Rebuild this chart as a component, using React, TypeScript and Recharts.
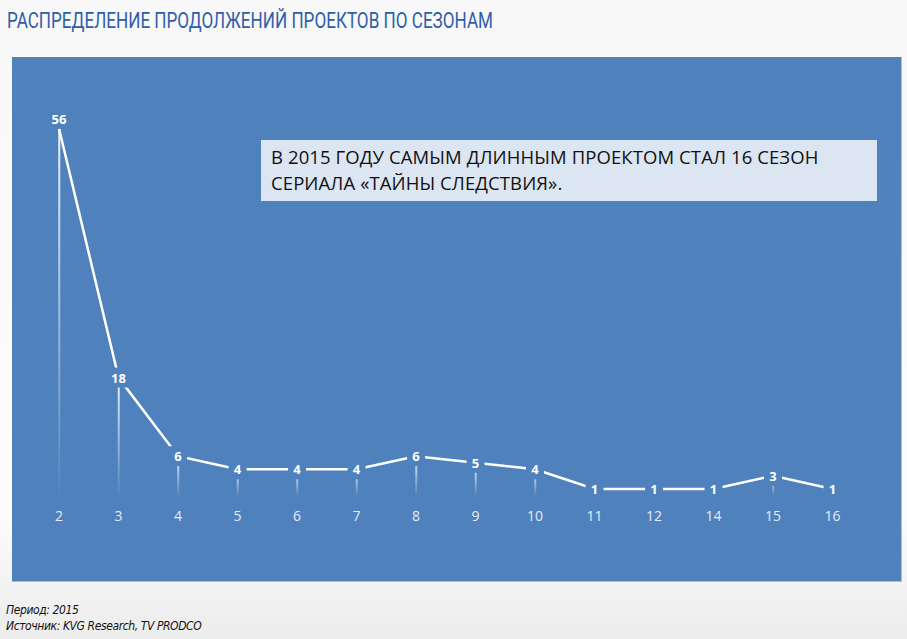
import {
  ComposedChart,
  Bar,
  Line,
  XAxis,
  YAxis,
  LabelList
} from 'recharts';

const SEASONS = ['2', '3', '4', '5', '6', '7', '8', '9', '10', '11', '12', '14', '15', '16'];
const PROJECTS = [56, 18, 6, 4, 4, 4, 6, 5, 4, 1, 1, 1, 3, 1];

const TITLE = 'РАСПРЕДЕЛЕНИЕ ПРОДОЛЖЕНИЙ ПРОЕКТОВ ПО СЕЗОНАМ';
const NOTE_LINES = ['В 2015 ГОДУ САМЫМ ДЛИННЫМ ПРОЕКТОМ СТАЛ 16 СЕЗОН', 'СЕРИАЛА «ТАЙНЫ СЛЕДСТВИЯ».'];
const PERIOD = 'Период: 2015';
const SOURCE = 'Источник: KVG Research, TV  PRODCO';

const PANEL = '#4f81bd';
const MAX_VALUE = Math.max(...PROJECTS);

const data = SEASONS.map((season, i) => ({ season, count: PROJECTS[i] }));

// thin fading drop line from the point down to the axis
function DropLine(props: any) {
  const { x, y, width, height } = props;
  if (!height || height <= 0) return null;
  return <rect x={x + width / 2 - 1} y={y} width={2} height={height} fill="url(#dropFade)" />;
}

// value label sitting on the point, with a panel-coloured box that cuts the line
function PointLabel(props: any) {
  const { x, y, value } = props;
  const w = String(value).length > 1 ? 26 : 18;
  const cy = value === MAX_VALUE ? y - 10 : y;
  return (
    <g>
      <rect x={x - w / 2} y={cy - 10} width={w} height={20} fill={PANEL} />
      <text
        x={x}
        y={cy}
        textAnchor="middle"
        dominantBaseline="central"
        fill="#ffffff"
        fontSize={13}
        fontWeight={700}
        fontFamily="'Open Sans', sans-serif"
      >
        {value}
      </text>
    </g>
  );
}

export default function App() {
  return (
    <div
      style={{
        position: 'fixed',
        left: 0,
        top: 0,
        width: 907,
        height: 639,
        overflow: 'hidden',
        background: 'linear-gradient(#f8f8f8, #fcfcfc 80%, #ececec)',
        fontFamily: "'Open Sans', sans-serif"
      }}
    >
      <svg width={907} height={50} style={{ position: 'absolute', left: 0, top: 0 }}>
        <text
          x={7}
          y={28}
          textLength={486}
          lengthAdjust="spacingAndGlyphs"
          fontFamily="Roboto, sans-serif"
          fontSize={22}
          fill="#2f5ea9"
        >
          {TITLE}
        </text>
      </svg>

      <div
        style={{
          position: 'absolute',
          left: 12,
          top: 57,
          width: 889,
          height: 524,
          background: PANEL,
          borderBottom: '1px solid #a8bedc',
          borderRight: '1px solid #a8bedc'
        }}
      >
        <ComposedChart
          width={890}
          height={525}
          data={data}
          margin={{ top: 45.5, right: 39.7, left: 17.3, bottom: 56.5 }}
        >
          <defs>
            <linearGradient id="dropFade" x1="0" y1="0" x2="0" y2="1">
              <stop offset="0%" stopColor="#ffffff" stopOpacity={0.9} />
              <stop offset="100%" stopColor="#ffffff" stopOpacity={0.03} />
            </linearGradient>
          </defs>
          <XAxis
            dataKey="season"
            axisLine={false}
            tickLine={false}
            interval={0}
            height={30}
            tickMargin={10}
            tick={{ fill: '#e4ecf6', fontSize: 14, fontFamily: "'Open Sans', sans-serif" }}
          />
          <YAxis hide domain={[0, 60]} />
          <Bar dataKey="count" shape={<DropLine />} isAnimationActive={false} />
          <Line
            type="linear"
            dataKey="count"
            stroke="#ffffff"
            strokeWidth={2.5}
            dot={false}
            activeDot={false}
            isAnimationActive={false}
          >
            <LabelList dataKey="count" content={<PointLabel />} />
          </Line>
        </ComposedChart>

        <div
          style={{
            position: 'absolute',
            left: 249,
            top: 83,
            width: 616,
            height: 61,
            boxSizing: 'border-box',
            padding: '4px 0 0 10px',
            background: '#dce6f2',
            color: '#111111',
            fontSize: 18.5,
            lineHeight: '26px',
            fontFamily: "'Open Sans', sans-serif",
            whiteSpace: 'nowrap',
            letterSpacing: 0.1
          }}
        >
          {NOTE_LINES.map((line) => (
            <div key={line}>{line}</div>
          ))}
        </div>
      </div>

      <div
        style={{
          position: 'absolute',
          left: 6,
          top: 602,
          fontSize: 12,
          lineHeight: '16px',
          fontStyle: 'italic',
          color: '#111111',
          fontFamily: "'DejaVu Sans Condensed', sans-serif",
          letterSpacing: -0.4
        }}
      >
        <div>{PERIOD}</div>
        <div>{SOURCE}</div>
      </div>
    </div>
  );
}
